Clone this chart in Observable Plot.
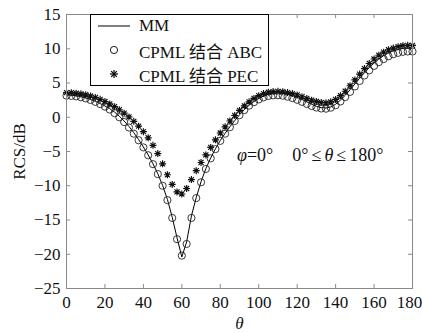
<!DOCTYPE html>
<html>
<head>
<meta charset="utf-8">
<script src="https://cdn.jsdelivr.net/npm/d3@7"></script>
<script src="https://cdn.jsdelivr.net/npm/@observablehq/plot@0.6"></script>
<style>
  html, body { margin: 0; padding: 0; background: #fff; overflow: hidden; }
  #wrap { position: relative; width: 422px; height: 333px; font-family: "Liberation Serif", "Times New Roman", "Noto Sans CJK SC", serif; }
  #wrap svg { overflow: visible; }
  #wrap svg [aria-label="x-axis label"] text { font-style: italic; }
  #legend { position: absolute; left: 90px; top: 14px; width: 179px; height: 72px; border: 1px solid #000; background: #fff; box-sizing: border-box; font-size: 17px; color: #111; }
  #legend .row { position: absolute; left: 0; height: 20px; display: flex; align-items: center; white-space: nowrap; }
  #legend svg { display: block; margin-left: 6px; margin-right: 8px; }
  #annot { position: absolute; left: 237px; top: 145px; font-size: 18px; color: #111; white-space: nowrap; }
  #annot i { font-style: italic; }
  #annot .gap { display: inline-block; width: 19px; }
  #annot .le { display: inline-block; margin: 0 3px; }
</style>
</head>
<body>
<div id="wrap">
  <div id="chart"></div>
  <div id="legend">
    <div class="row" style="top:1px"><svg width="34" height="20"><line x1="1" x2="33" y1="10" y2="10" stroke="#000" stroke-width="1"/></svg><span>MM</span></div>
    <div class="row" style="top:25px"><svg width="34" height="20"><circle cx="17" cy="10" r="3.6" fill="none" stroke="#000" stroke-width="0.9"/></svg><span>CPML 结合 ABC</span></div>
    <div class="row" style="top:49px"><svg width="34" height="20"><g stroke="#000" stroke-width="1.2"><line x1="13" x2="21" y1="10" y2="10"/><line x1="17" x2="17" y1="6" y2="14"/><line x1="14.2" x2="19.8" y1="7.2" y2="12.8"/><line x1="14.2" x2="19.8" y1="12.8" y2="7.2"/></g></svg><span>CPML 结合 PEC</span></div>
  </div>
  <div id="annot"><i>φ</i>=0°<span class="gap"></span>0°<span class="le">≤</span><i>θ</i><span class="le">≤</span>180°</div>
</div>
<script>
const theta = [0,2.5,5,7.5,10,12.5,15,17.5,20,22.5,25,27.5,30,32.5,35,37.5,40,42.5,45,47.5,50,52.5,55,57.5,60,62.5,65,67.5,70,72.5,75,77.5,80,82.5,85,87.5,90,92.5,95,97.5,100,102.5,105,107.5,110,112.5,115,117.5,120,122.5,125,127.5,130,132.5,135,137.5,140,142.5,145,147.5,150,152.5,155,157.5,160,162.5,165,167.5,170,172.5,175,177.5,180];

const mm = [3.25,3.22,3.15,3.0,2.82,2.6,2.32,2.0,1.65,1.25,0.75,0.15,-0.55,-1.35,-2.25,-3.25,-4.35,-5.5,-6.8,-8.25,-9.95,-12.0,-14.6,-17.6,-20.4,-18.2,-14.4,-11.7,-9.4,-7.5,-5.95,-4.6,-3.4,-2.35,-1.4,-0.5,0.35,1.1,1.75,2.3,2.75,3.1,3.35,3.5,3.55,3.5,3.35,3.15,2.9,2.6,2.25,1.9,1.6,1.4,1.35,1.5,1.9,2.5,3.2,4.0,4.85,5.7,6.5,7.25,7.9,8.5,9.0,9.4,9.7,9.9,10.05,10.1,10.1];

const abc = [3.15,3.12,3.05,2.92,2.75,2.52,2.25,1.92,1.55,1.12,0.6,0.0,-0.7,-1.5,-2.4,-3.35,-4.4,-5.55,-6.85,-8.3,-10.0,-12.1,-14.7,-17.8,-20.2,-18.5,-14.7,-11.8,-9.5,-7.55,-6.0,-4.65,-3.45,-2.4,-1.45,-0.55,0.3,1.05,1.7,2.2,2.6,2.9,3.1,3.2,3.22,3.15,3.0,2.8,2.55,2.25,1.95,1.65,1.42,1.28,1.25,1.4,1.75,2.3,2.95,3.7,4.5,5.3,6.1,6.85,7.5,8.05,8.5,8.9,9.2,9.4,9.55,9.6,9.6];

const pec = [3.6,3.58,3.52,3.42,3.28,3.1,2.88,2.62,2.3,1.95,1.55,1.1,0.6,0.05,-0.6,-1.3,-2.1,-3.0,-4.1,-5.3,-6.8,-8.4,-9.8,-10.9,-11.2,-10.4,-9.1,-7.8,-6.6,-5.5,-4.4,-3.3,-2.3,-1.4,-0.55,0.25,1.0,1.65,2.25,2.75,3.15,3.45,3.65,3.75,3.78,3.72,3.6,3.45,3.25,3.0,2.75,2.5,2.3,2.15,2.1,2.25,2.6,3.15,3.8,4.6,5.45,6.3,7.1,7.85,8.5,9.05,9.5,9.85,10.1,10.3,10.45,10.5,10.5];

const xTicks = [0,20,40,60,80,100,120,140,160,180];
const yTicks = [-25,-20,-15,-10,-5,0,5,10,15];

const mmData = theta.map((t, i) => ({t, v: mm[i]}));
const abcData = theta.map((t, i) => ({t, v: abc[i]}));
const pecData = theta.map((t, i) => ({t, v: pec[i]}));

const star8 = {
  draw(ctx, size) {
    const r = Math.sqrt(size / Math.PI);
    const d = r * 0.72;
    ctx.moveTo(-r, 0); ctx.lineTo(r, 0);
    ctx.moveTo(0, -r); ctx.lineTo(0, r);
    ctx.moveTo(-d, -d); ctx.lineTo(d, d);
    ctx.moveTo(-d, d); ctx.lineTo(d, -d);
  }
};

const W = 422, H = 333, mL = 66, mR = 10, mT = 14, mB = 45;
const innerW = W - mL - mR, innerH = H - mT - mB, tk = 4;
const grey = "#8a8a8a";
const fontFam = "'Liberation Serif', 'Times New Roman', 'Noto Sans CJK SC', serif";

const chart = Plot.plot({
  width: W, height: H,
  marginLeft: mL, marginRight: mR, marginTop: mT, marginBottom: mB,
  style: { fontFamily: fontFam, fontSize: "17px", color: "#111", background: "#fff", overflow: "visible" },
  x: { domain: [0, 180] },
  y: { domain: [-25, 15] },
  marks: [
    Plot.axisX(xTicks.slice(0, -1), { tickSize: 0, tickPadding: 7, label: "θ", labelAnchor: "center", labelArrow: "none", labelOffset: 40, fontSize: 17, fontFamily: fontFam }),
    Plot.axisX(xTicks.slice(-1), { tickSize: 0, tickPadding: 7, label: null, dx: -3, fontSize: 17, fontFamily: fontFam }),
    Plot.axisY(yTicks, { tickSize: 0, tickPadding: 6, label: "RCS/dB", labelAnchor: "center", labelArrow: "none", labelOffset: 54, fontSize: 17, fontFamily: fontFam }),
    Plot.tickX(xTicks, { x: d => d, insetTop: innerH - tk, stroke: grey }),
    Plot.tickX(xTicks, { x: d => d, insetBottom: innerH - tk, stroke: grey }),
    Plot.tickY(yTicks, { y: d => d, insetRight: innerW - tk, stroke: grey }),
    Plot.tickY(yTicks, { y: d => d, insetLeft: innerW - tk, stroke: grey }),
    Plot.line(mmData, { x: "t", y: "v", stroke: "#000", strokeWidth: 1 }),
    Plot.dot(abcData, { x: "t", y: "v", r: 3.6, stroke: "#222", strokeWidth: 0.9, fill: "none" }),
    Plot.dot(pecData, { x: "t", y: "v", r: 3.5, symbol: star8, stroke: "#111", strokeWidth: 1.15, fill: "none" }),
    Plot.frame({ stroke: grey, strokeWidth: 1 })
  ]
});
document.getElementById("chart").appendChild(chart);
</script>
</body>
</html>
